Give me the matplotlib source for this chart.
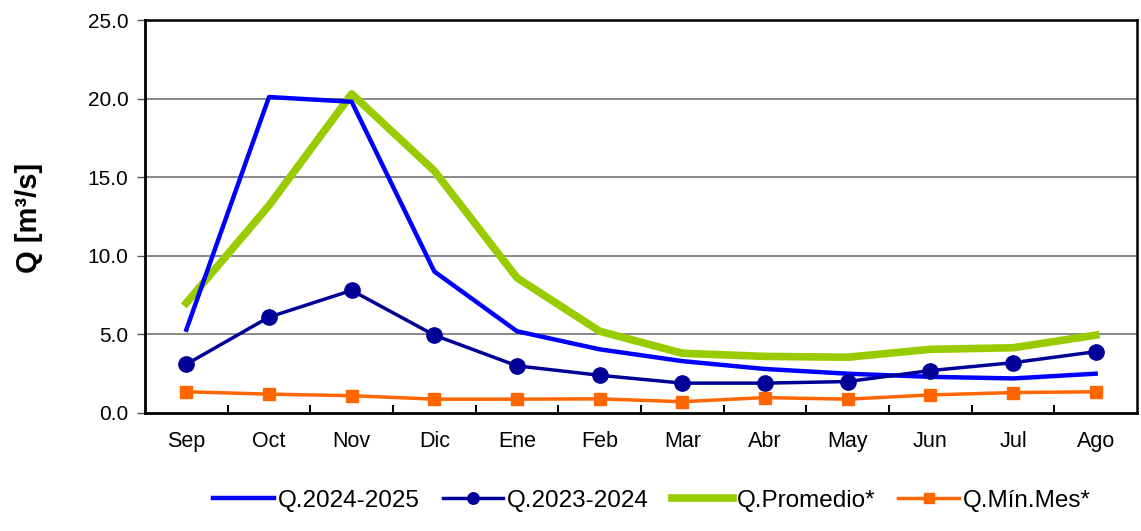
import matplotlib
matplotlib.use("Agg")
import matplotlib.pyplot as plt
from matplotlib.ticker import FixedLocator

plt.rcParams['font.family'] = ['Liberation Sans', 'DejaVu Sans']

months = ["Sep", "Oct", "Nov", "Dic", "Ene", "Feb", "Mar", "Abr", "May", "Jun", "Jul", "Ago"]
q_2024_2025 = [5.3, 20.1, 19.8, 9.0, 5.2, 4.05, 3.3, 2.8, 2.5, 2.3, 2.2, 2.5]
q_2023_2024 = [3.1, 6.1, 7.8, 4.95, 3.0, 2.4, 1.9, 1.9, 2.0, 2.7, 3.2, 3.9]
q_promedio = [7.0, 13.2, 20.3, 15.4, 8.6, 5.2, 3.8, 3.6, 3.55, 4.05, 4.15, 4.95]
q_min_mes = [1.35, 1.2, 1.1, 0.88, 0.88, 0.9, 0.72, 0.98, 0.88, 1.15, 1.3, 1.35]
y_ticks = [0, 5, 10, 15, 20, 25]

fig = plt.figure(figsize=(11.41, 5.31), dpi=100)
ax = fig.add_axes([145/1141, (531-413)/531, (1137-145)/1141, (413-20)/531])

x = list(range(len(months)))
ax.plot(x, q_2024_2025, color="#0000FF", lw=3.2, label="Q.2024-2025", zorder=4)
ax.plot(x, q_2023_2024, color="#000099", lw=2.5, marker="o", markersize=11, label="Q.2023-2024", zorder=5)
ax.plot(x, q_promedio, color="#99CC00", lw=5.5, label="Q.Promedio*", zorder=3)
ax.plot(x, q_min_mes, color="#FF6600", lw=2.5, marker="s", markersize=9, label="Q.Mín.Mes*", zorder=5)

ax.set_xlim(-0.5, len(months) - 0.5)
ax.set_ylim(0, 25)
ax.set_yticks(y_ticks)
ax.set_yticklabels([f"{v:.1f}" for v in y_ticks], fontsize=15)
ax.set_xticks(x)
ax.set_xticklabels(months, fontsize=15.5)
ax.xaxis.set_minor_locator(FixedLocator([i + 0.5 for i in range(len(months) - 1)]))
ax.tick_params(axis='x', which='major', length=0, pad=13)
ax.tick_params(axis='x', which='minor', direction='in', length=6, width=1.5, color='black')
ax.tick_params(axis='y', which='major', direction='out', length=6, width=1, color='#555555', pad=6)

for yv in y_ticks[1:-1]:
    ax.axhline(yv, color="#7f7f7f", lw=1.3, zorder=1)

for s in ax.spines.values():
    s.set_color("black")
    s.set_linewidth(2)
ax.spines['top'].set_linewidth(1.8)
ax.spines['right'].set_linewidth(1.8)

fig.text(29/1141, 1 - 218/531, "Q [m³/s]", fontsize=21, fontweight='bold',
         rotation=90, ha='center', va='center')

leg = fig.legend(loc='center', bbox_to_anchor=(652/1141, 1 - 501/531), ncol=4, frameon=False,
                 fontsize=17.5, handlelength=2.5, handletextpad=0.15, columnspacing=0.95,
                 borderpad=0, markerscale=0.75)

fig.savefig("out.png", dpi=100)
